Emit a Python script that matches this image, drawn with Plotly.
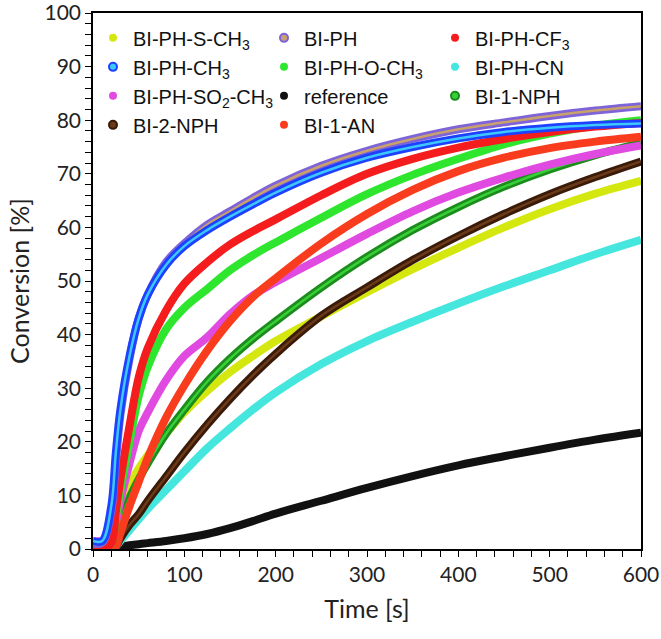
import plotly.graph_objects as go

# sample times [s]
time_s = [0, 10, 20, 25, 30, 40, 50, 60, 80, 100, 125, 150, 175, 200, 250, 300, 350, 400, 450, 500, 550, 600]

# conversion [%] per catalyst
bi_ph_s_ch3 = [0, 0, 1, 4, 7.5, 12, 15, 17.5, 21.5, 25.5, 29.5, 33, 36, 38.8, 43.4, 47.9, 52.2, 56.2, 60, 63.4, 66.3, 68.7]
bi_ph = [1.0, 1.2, 7, 16, 25, 35.5, 43, 47.5, 53.5, 57, 60.5, 63, 65.5, 67.8, 71.5, 74.3, 76.5, 78.3, 79.6, 80.8, 81.8, 82.6]
bi_ph_cf3 = [0, 0, 1, 7, 13, 23, 32, 37.5, 44.5, 49.5, 53.5, 56.8, 59.3, 61.5, 66, 70, 72.8, 74.9, 76.5, 77.8, 78.8, 79.5]
bi_ph_ch3 = [1.5, 1.5, 8, 18, 26, 36, 43, 47.5, 53, 56.5, 59.5, 62, 64.3, 66.5, 70.2, 73.0, 75.0, 76.6, 77.8, 78.6, 79.1, 79.4]
bi_ph_o_ch3 = [0, 0, 1, 6, 11, 20, 28.5, 34, 41, 45, 48.5, 52, 54.8, 57.2, 61.8, 66.2, 69.8, 72.8, 75.5, 77.5, 79.0, 80.0]
bi_ph_cn = [0, 0, 0, 0.5, 1.5, 3.5, 5.5, 7.5, 11, 14.5, 18.8, 22.5, 26, 29.2, 34.5, 38.8, 42.4, 45.8, 49, 52, 55, 57.7]
bi_ph_so2_ch3 = [1.5, 1.5, 2, 5, 9, 16, 22, 25.5, 31.5, 36, 39.5, 43.8, 47.3, 49.8, 54.3, 58.8, 63, 66.5, 69.3, 71.7, 73.7, 75.3]
reference = [0, 0.1, 0.3, 0.4, 0.5, 0.7, 0.9, 1.1, 1.5, 2.0, 2.8, 3.9, 5.2, 6.6, 9.0, 11.4, 13.6, 15.6, 17.3, 18.9, 20.4, 21.7]
bi_1_nph = [0, 0, 0.5, 2.5, 5, 9.5, 13, 16, 21.5, 26, 31.2, 35.5, 39.2, 42.5, 48.8, 54.5, 59.5, 63.8, 67.6, 70.8, 73.5, 75.7]
bi_2_nph = [0, 0, 0, 0.5, 2, 4.5, 6.5, 9, 13.5, 18, 23.2, 28, 32.4, 36.4, 43.5, 48.8, 53.9, 58.4, 62.5, 66.2, 69.4, 72.3]
bi_1_an = [0, 0, 0, 0.5, 3, 8, 12.5, 17, 24.5, 30.5, 37, 42.5, 47, 50.5, 57, 62.5, 67, 70.5, 73, 74.8, 76, 76.9]

# name, values, band colour, inner colour (None = solid dots)
series = [
    ("BI-PH-S-CH<sub>3</sub>", bi_ph_s_ch3, "#d4e810", None),
    ("BI-PH", bi_ph, "#7e63d9", "#c9a26b"),
    ("BI-PH-CF<sub>3</sub>", bi_ph_cf3, "#f41c1c", None),
    ("BI-PH-CH<sub>3</sub>", bi_ph_ch3, "#1e40ff", "#3cc8ff"),
    ("BI-PH-O-CH<sub>3</sub>", bi_ph_o_ch3, "#2ee62e", None),
    ("BI-PH-CN", bi_ph_cn, "#45e6de", None),
    ("BI-PH-SO<sub>2</sub>-CH<sub>3</sub>", bi_ph_so2_ch3, "#e04ae0", None),
    ("reference", reference, "#111111", None),
    ("BI-1-NPH", bi_1_nph, "#1c8c1c", "#38d038"),
    ("BI-2-NPH", bi_2_nph, "#3a1a08", "#6b3a18"),
    ("BI-1-AN", bi_1_an, "#fa3c1e", None),
]

# drawing order (bottom to top)
draw_order = [7, 5, 0, 9, 8, 6, 10, 4, 2, 1, 3]

fig = go.Figure()

for i in draw_order:
    name, vals, col, inner = series[i]
    fig.add_trace(go.Scatter(
        x=time_s, y=vals, mode="lines", line=dict(color=col, width=8, shape="spline"),
        showlegend=False, hoverinfo="skip", cliponaxis=False
    ))
    if inner:
        fig.add_trace(go.Scatter(
            x=time_s, y=vals, mode="lines", line=dict(color=inner, width=2.5, shape="spline"),
            showlegend=False, hoverinfo="skip", cliponaxis=False
        ))

# legend entries (dots)
for name, vals, col, inner in series:
    fig.add_trace(go.Scatter(
        x=[None], y=[None], mode="markers", name=name,
        marker=dict(size=8, color=inner if inner else col,
                    line=dict(color=col, width=2 if inner else 0))
    ))

fig.update_layout(
    width=661, height=639,
    margin=dict(l=93, r=20, t=13, b=90, autoexpand=False),
    plot_bgcolor="white", paper_bgcolor="white",
    legend=dict(
        orientation="h", x=0, xanchor="left", y=0.99, yanchor="top",
        entrywidth=126, bgcolor="rgba(0,0,0,0)",
        font=dict(family="Liberation Sans, Arial", size=20, color="#111")
    ),
)

fig.update_xaxes(
    range=[0, 600], dtick=100, showgrid=False, zeroline=False, automargin=False,
    showline=True, linecolor="black", linewidth=1.5, mirror=True,
    ticks="outside", ticklen=6, tickcolor="black", ticklabeloverflow="allow",
    minor=dict(dtick=20, ticks="outside", ticklen=6, tickcolor="black"),
    tickfont=dict(family="Lato", size=21, color="#222"),
    title=dict(text="Time [s]", font=dict(family="Lato", size=25, color="#222"), standoff=16)
)
fig.update_yaxes(
    range=[0, 100], dtick=10, showgrid=False, zeroline=False, automargin=False,
    showline=True, linecolor="black", linewidth=1.5, mirror=True,
    ticks="outside", ticklen=6, tickcolor="black", ticklabeloverflow="allow",
    minor=dict(dtick=2, ticks="outside", ticklen=6, tickcolor="black"),
    tickfont=dict(family="Lato", size=21, color="#222"),
    title=dict(text="Conversion [%]", font=dict(family="Lato", size=25, color="#222"), standoff=8)
)

fig.write_html("out.html", config={"displayModeBar": False},
               post_script="document.body.style.margin='0';")
